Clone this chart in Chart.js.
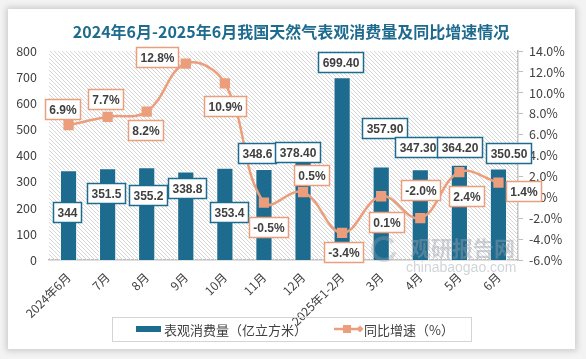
<!DOCTYPE html>
<html>
<head>
<meta charset="utf-8">
<script src="https://cdn.jsdelivr.net/npm/chart.js@4.4.1/dist/chart.umd.min.js"></script>
<style>
	html, body { margin:0; padding:0; width:586px; height:359px; overflow:hidden; background:#f3f3f3; }
	.card { position:absolute; left:8px; top:9px; width:567px; height:340px; background:#fff; box-shadow:0 0 6px 2px rgba(0,0,0,0.16); }
	canvas { display:block; }
</style>
</head>
<body>
<div class="card"><canvas id="gasChart" width="567" height="340"></canvas></div>
<script>
	const months = ['2024年6月','7月','8月','9月','10月','11月','12月','2025年1-2月','3月','4月','5月','6月'];
	const consumption = [344, 351.5, 355.2, 338.8, 353.4, 348.6, 378.4, 699.4, 357.9, 347.3, 364.2, 350.5];
	const consumptionText = ['344','351.5','355.2','338.8','353.4','348.6','378.40','699.40','357.90','347.30','364.20','350.50'];
	const growth = [6.9, 7.7, 8.2, 12.8, 10.9, -0.5, 0.5, -3.4, 0.1, -2.0, 2.4, 1.4];
	const growthText = ['6.9%','7.7%','8.2%','12.8%','10.9%','-0.5%','0.5%','-3.4%','0.1%','-2.0%','2.4%','1.4%'];

	// label box offsets (px) from bar top / line point
	const barLabelShift = [[-2,42],[-2,25],[1,28],[1,17],[4,44],[-7,-16],[-6,-9],[-2,-15],[3,-38],[-3,-22],[0,-18],[10,-15]];
	const lineLabelShift = [[-6,-16],[-2,-18],[-1,18],[-29,-7],[0,23],[5,24],[8,-17],[1,19],[5,26],[0,-28],[7,24],[25,8]];

	const BLUE = '#1d6b8f';
	const ORANGE = '#ec9e7c';
	const TXT = '#404040';
	const FONT = '"Noto Sans CJK SC", "Noto Sans", sans-serif';
	const NUMFONT = '"Liberation Sans", "Noto Sans", sans-serif';

	function hatch(){
		const c = document.createElement('canvas');
		c.width = 4; c.height = 4;
		const g = c.getContext('2d');
		g.strokeStyle = '#d6d6d6';
		g.lineWidth = 1;
		g.beginPath();
		g.moveTo(-1,-1); g.lineTo(5,5);
		g.moveTo(-1,3); g.lineTo(1,5);
		g.moveTo(3,-1); g.lineTo(5,1);
		g.stroke();
		return c;
	}

	function labelBox(ctx, text, cx, cy, border){
		ctx.font = 'bold 12px ' + NUMFONT;
		const w = Math.round(ctx.measureText(text).width + 8);
		const h = 20;
		const x = Math.round(cx - w/2) + 0.5, y = Math.round(cy - h/2) + 0.5;
		ctx.fillStyle = '#fff';
		ctx.fillRect(x, y, w, h);
		ctx.strokeStyle = border;
		ctx.lineWidth = 1.5;
		ctx.strokeRect(x, y, w, h);
		ctx.fillStyle = TXT;
		ctx.textAlign = 'center';
		ctx.textBaseline = 'middle';
		ctx.fillText(text, x + w/2, y + h/2 + 1);
	}

	const decor = {
		id: 'decor',
		beforeDatasetsDraw(chart){
			const {ctx, chartArea: a} = chart;
			ctx.save();
			ctx.fillStyle = ctx.createPattern(hatch(), 'repeat');
			ctx.fillRect(a.left, a.top, a.right - a.left, a.bottom - a.top);
			ctx.restore();
		},
		afterDatasetsDraw(chart){
			const ctx = chart.ctx;
			ctx.save();
			// watermark
			ctx.fillStyle = 'rgba(150,160,170,0.45)';
			ctx.font = 'bold 21px ' + FONT;
			ctx.textAlign = 'left';
			ctx.textBaseline = 'middle';
			ctx.fillText('观研报告网', 402, 239);
			ctx.font = '14px ' + NUMFONT;
			ctx.fillText('chinabaogao.com', 398, 259);
			ctx.lineWidth = 4;
			ctx.strokeStyle = 'rgba(150,160,170,0.35)';
			ctx.beginPath(); ctx.arc(376, 240, 11, 0.3, Math.PI * 1.8); ctx.stroke();

			const bars = chart.getDatasetMeta(1).data;
			bars.forEach((b, i) => {
				labelBox(ctx, consumptionText[i], b.x + barLabelShift[i][0], b.y + barLabelShift[i][1], BLUE);
			});
			const pts = chart.getDatasetMeta(0).data;
			pts.forEach((p, i) => {
				labelBox(ctx, growthText[i], p.x + lineLabelShift[i][0], p.y + lineLabelShift[i][1], ORANGE);
			});

			// title
			ctx.font = 'bold 16px ' + FONT;
			ctx.fillStyle = '#1f6b8f';
			ctx.textAlign = 'center';
			ctx.fillText('2024年6月-2025年6月我国天然气表观消费量及同比增速情况', 283, 23);

			// legend
			ctx.strokeStyle = '#d4d4d4';
			ctx.lineWidth = 1;
			ctx.strokeRect(104.5, 308.5, 359, 24);
			ctx.fillStyle = BLUE;
			ctx.fillRect(128, 317, 25, 6);
			ctx.fillStyle = TXT;
			ctx.font = '13px ' + FONT;
			ctx.textAlign = 'left';
			ctx.fillText(chart.data.datasets[1].label, 156, 321);
			ctx.strokeStyle = ORANGE;
			ctx.lineWidth = 2.5;
			ctx.beginPath(); ctx.moveTo(326, 320); ctx.lineTo(352, 320); ctx.stroke();
			ctx.fillStyle = ORANGE;
			ctx.fillRect(335, 316, 8, 8);
			ctx.beginPath(); ctx.moveTo(352, 316.5); ctx.lineTo(355.5, 320); ctx.lineTo(352, 323.5); ctx.lineTo(348.5, 320); ctx.fill();
			ctx.fillStyle = TXT;
			ctx.fillText(chart.data.datasets[0].label, 356, 321);
			ctx.restore();
		}
	};

	const ctx = document.getElementById('gasChart').getContext('2d');
	new Chart(ctx, {
		type: 'bar',
		data: {
			labels: months,
			datasets: [
				{ type: 'line', label: '同比增速（%）', data: growth, yAxisID: 'y1', order: 0,
					borderColor: ORANGE, borderWidth: 2.5, tension: 0.4, fill: false,
					pointStyle: 'rect', pointRadius: 5.5, pointBackgroundColor: ORANGE, pointBorderColor: ORANGE },
				{ label: '表观消费量（亿立方米）', data: consumption, yAxisID: 'y', order: 1,
					backgroundColor: BLUE, borderColor: '#ffffff', borderWidth: 1,
					barPercentage: 0.44, categoryPercentage: 1 }
			]
		},
		options: {
			responsive: false,
			animation: false,
			layout: { padding: { left: 0, right: 10, top: 42, bottom: 0 } },
			plugins: { legend: { display: false }, tooltip: { enabled: false } },
			scales: {
				x: {
					grid: { display: false },
					border: { color: '#bfbfbf', width: 1.5 },
					ticks: { color: TXT, font: { family: FONT, size: 12 }, maxRotation: 45, minRotation: 45, padding: 2, autoSkip: false },
					afterFit: s => { s.height = 89; }
				},
				y: {
					min: 0, max: 800,
					grid: { display: false, drawTicks: false },
					border: { display: false },
					ticks: { stepSize: 100, color: TXT, font: { family: FONT, size: 12.5 }, padding: 12 },
					afterFit: s => { s.width = 41; }
				},
				y1: {
					position: 'right',
					min: -6, max: 14,
					grid: { drawOnChartArea: false, drawTicks: true, tickLength: 5, color: '#bfbfbf' },
					border: { color: '#bfbfbf', width: 1.5 },
					ticks: { stepSize: 2, color: TXT, font: { family: FONT, size: 12.5 }, padding: 6,
						callback: v => v.toFixed(1) + '%' },
					afterFit: s => { s.width = 47; }
				}
			}
		},
		plugins: [decor]
	});
</script>
</body>
</html>
